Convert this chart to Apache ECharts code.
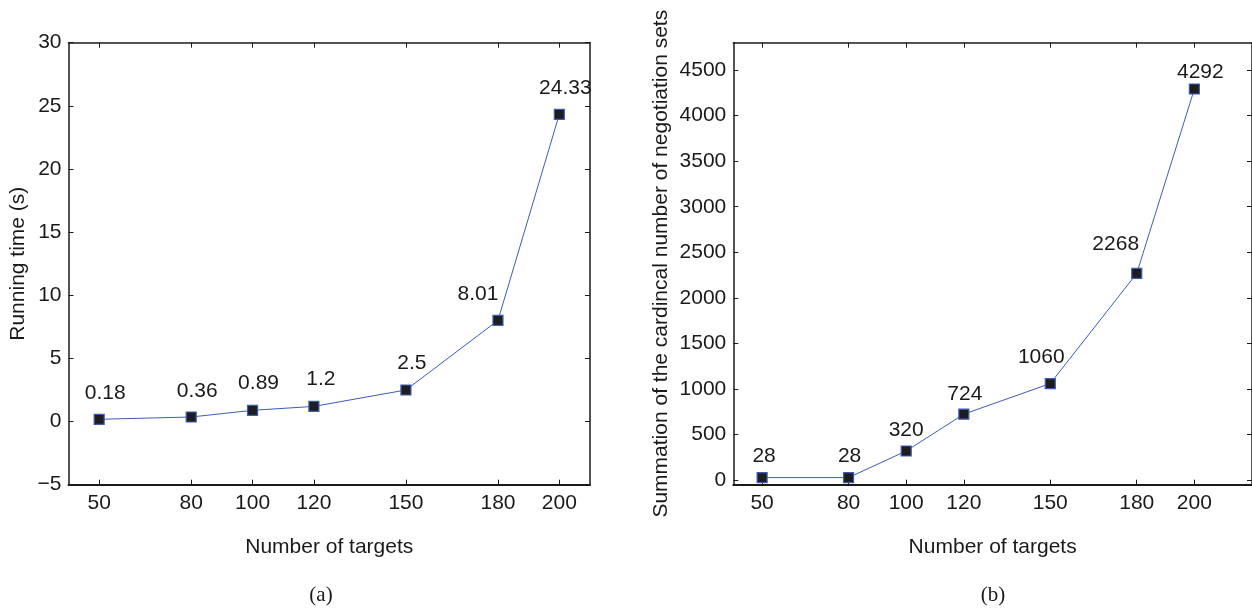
<!DOCTYPE html>
<html>
<head>
<meta charset="utf-8">
<script src="https://cdn.jsdelivr.net/npm/echarts@6/dist/echarts.min.js"></script>
<style>
  html, body { margin: 0; padding: 0; background: #fff; }
  #chart { width: 1252px; height: 609px; }
</style>
</head>
<body>
<div id="chart"></div>
<script>
// data
const targets = [50, 80, 100, 120, 150, 180, 200]
const runningTime = [0.18, 0.36, 0.89, 1.2, 2.5, 8.01, 24.33]
const negotiationSum = [28, 28, 320, 724, 1060, 2268, 4292]

const xTicks = [50, 80, 100, 120, 150, 180, 200]
const yTicksA = [-5, 0, 5, 10, 15, 20, 25, 30]
const yTicksB = [0, 500, 1000, 1500, 2000, 2500, 3000, 3500, 4000, 4500]

// label nudges (px) relative to the marker centre
const labelShiftA = [[6, -26], [6, -26], [6, -27], [7, -27], [6, -27], [-20, -26], [6, -26]]
const labelShiftB = [[2, -21], [1, -21], [0, -21], [1, -20], [-9, -26], [-21, -29], [6, -17]]

const ink = '#1a1a1a'
const blue = '#3c5cb8'
const sans = '"Liberation Sans", Arial, Helvetica, sans-serif'
const fs = 21

const chart = echarts.init(document.getElementById('chart'))

const bottomAxis = (grid, max) => ({
  gridIndex: grid, type: 'value', position: 'bottom', min: 40, max: max,
  axisLine: { onZero: false, lineStyle: { color: ink, width: 2 } },
  axisTick: { show: true, inside: true, length: 5, customValues: xTicks, lineStyle: { color: ink, width: 1 } },
  axisLabel: { customValues: xTicks, margin: 8, fontSize: fs, color: ink, fontFamily: sans },
  splitLine: { show: false },
  name: 'Number of targets', nameLocation: 'middle', nameGap: 52,
  nameTextStyle: { fontSize: fs, color: ink, fontFamily: sans }
})

const topAxis = (grid, max) => ({
  gridIndex: grid, type: 'value', position: 'top', min: 40, max: max,
  axisLine: { onZero: false, lineStyle: { color: ink, width: 1.5 } },
  axisTick: { show: true, inside: true, length: 5, customValues: xTicks, lineStyle: { color: ink, width: 1 } },
  axisLabel: { show: false },
  splitLine: { show: false }
})

const minusFmt = v => String(v).replace('-', '\u2212')

const leftAxis = (grid, min, max, ticks, name, gap) => ({
  gridIndex: grid, type: 'value', position: 'left', min: min, max: max,
  axisLine: { show: true, onZero: false, lineStyle: { color: ink, width: 1.5 } },
  axisTick: { show: true, inside: true, length: 5, customValues: ticks, lineStyle: { color: ink, width: 1 } },
  axisLabel: { customValues: ticks, margin: 7, fontSize: fs, color: ink, fontFamily: sans, formatter: minusFmt },
  splitLine: { show: false },
  name: name, nameLocation: 'middle', nameGap: gap, nameRotate: 90,
  nameTextStyle: { fontSize: fs, color: ink, fontFamily: sans }
})

const rightAxis = (grid, min, max, ticks) => ({
  gridIndex: grid, type: 'value', position: 'right', min: min, max: max,
  axisLine: { show: true, onZero: false, lineStyle: { color: ink, width: 1.5 } },
  axisTick: { show: true, inside: true, length: 5, customValues: ticks, lineStyle: { color: ink, width: 1 } },
  axisLabel: { show: false },
  splitLine: { show: false }
})

const points = (xs, ys, shifts) => xs.map((x, i) => ({
  value: [x, ys[i]],
  label: { offset: shifts[i] }
}))

const lineSeries = (xIdx, yIdx, data) => ({
  type: 'line', xAxisIndex: xIdx, yAxisIndex: yIdx,
  data: data,
  symbol: 'rect', symbolSize: 10,
  itemStyle: { color: '#1d1d20', borderColor: blue, borderWidth: 1.2 },
  lineStyle: { color: blue, width: 1 },
  label: {
    show: true, position: 'inside', fontSize: fs, color: ink, fontFamily: sans,
    formatter: p => String(p.value[1])
  },
  emphasis: { disabled: true }
})

const captionStyle = {
  fontFamily: '"Liberation Serif", "Times New Roman", serif',
  fontSize: 21, fontWeight: 'normal', color: ink
}

const option = {
  animation: false,
  backgroundColor: '#fff',
  title: [
    { text: '(a)', left: 316, top: 580, textAlign: 'center', textStyle: captionStyle },
    { text: '(b)', left: 988, top: 580, textAlign: 'center', textStyle: captionStyle }
  ],
  grid: [
    { left: 68.5, top: 42.7, width: 521.5, height: 442 },
    { left: 733.3, top: 42.7, width: 520.6, height: 442 }
  ],
  // 0/1: bottom/top of panel a, 2/3: bottom/top of panel b
  xAxis: [bottomAxis(0, 210), topAxis(0, 210), bottomAxis(1, 220), topAxis(1, 220)],
  yAxis: [
    leftAxis(0, -5, 30, yTicksA, 'Running time (s)', 40),
    rightAxis(0, -5, 30, yTicksA),
    leftAxis(1, -50, 4800, yTicksB, 'Summation of the cardincal number of negotiation sets', 62),
    rightAxis(1, -50, 4800, yTicksB)
  ],
  series: [
    lineSeries(0, 0, points(targets, runningTime, labelShiftA)),
    lineSeries(2, 2, points(targets, negotiationSum, labelShiftB))
  ]
}

chart.setOption(option)
window.addEventListener('resize', () => chart.resize())
</script>
</body>
</html>
